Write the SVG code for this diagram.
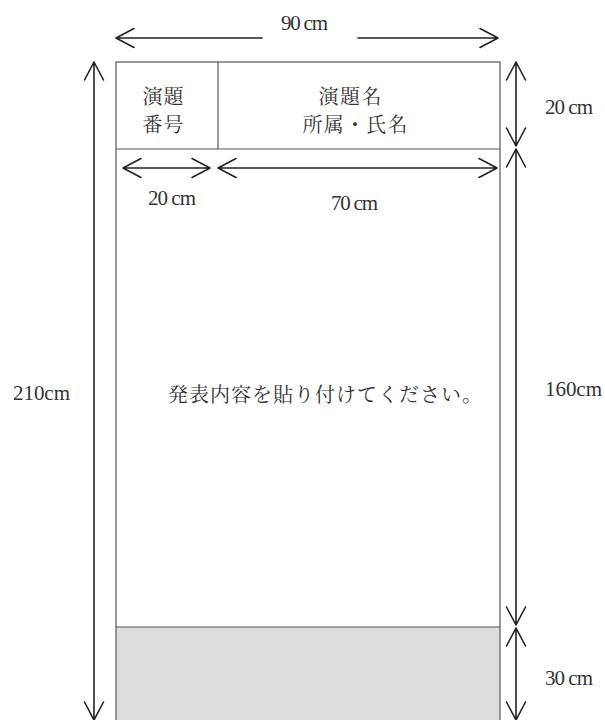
<svg xmlns="http://www.w3.org/2000/svg" width="605" height="720" viewBox="0 0 605 720">
<style>
.frame{fill:none;stroke:#555;stroke-width:1.2}
.arr{fill:none;stroke:#222;stroke-width:1.6;stroke-linecap:round;stroke-linejoin:round}
.lbl{font-family:"Liberation Serif","Noto Sans CJK JP",serif;font-size:21px;fill:#333}
.jp{font-family:"Noto Serif CJK JP","Liberation Serif","Noto Sans CJK JP",serif;font-size:20px;fill:#333}
</style>
<rect width="605" height="720" fill="#fff"/>
<g id="poster">
<rect x="116" y="627" width="384" height="100" fill="#dcdddf" stroke="none"/>
<rect class="frame" x="116" y="62" width="384" height="700"/>
<line class="frame" x1="116" y1="149" x2="500" y2="149"/>
<line class="frame" x1="116" y1="627" x2="500" y2="627"/>
</g>
<g id="number-cell">
<line class="frame" x1="218" y1="62" x2="218" y2="149"/>
<text class="jp" x="163" y="104" text-anchor="middle" textLength="41">演題</text>
<text class="jp" x="163" y="132" text-anchor="middle" textLength="41">番号</text>
</g>
<g id="title-cell">
<text class="jp" x="350" y="104" text-anchor="middle" textLength="63">演題名</text>
<text class="jp" x="355" y="132" text-anchor="middle" textLength="105">所属・氏名</text>
</g>
<g id="content">
<text class="jp" x="168" y="402" font-size="21" textLength="314">発表内容を貼り付けてください。</text>
</g>
<g id="connectors">
<!-- 90 cm -->
<path class="arr" d="M116 38H262M358 38H498M134 28.5L116 38L134 47.5M480 28.5L498 38L480 47.5"/>
<!-- 20 cm / 70 cm under header -->
<path class="arr" d="M123 168H210M141 158.5L123 168L141 177.5M192 158.5L210 168L192 177.5"/>
<path class="arr" d="M218 168H497M236 158.5L218 168L236 177.5M479 158.5L497 168L479 177.5"/>
<!-- 210 cm -->
<path class="arr" d="M94 62V720M84.5 80L94 62L103.5 80M84.5 702L94 720L103.5 702"/>
<!-- 20 cm right -->
<path class="arr" d="M516 62V146M506.5 80L516 62L525.5 80M506.5 128L516 146L525.5 128"/>
<!-- 160 cm -->
<path class="arr" d="M516 149V625M506.5 167L516 149L525.5 167M506.5 607L516 625L525.5 607"/>
<!-- 30 cm -->
<path class="arr" d="M516 628V720M506.5 646L516 628L525.5 646M506.5 702L516 720L525.5 702"/>
</g>
<g id="labels">
<text class="lbl" x="281" y="30" textLength="47">90 cm</text>
<text class="lbl" x="545" y="114" textLength="48">20 cm</text>
<text class="lbl" x="148" y="205" textLength="48">20 cm</text>
<text class="lbl" x="331" y="210" textLength="47">70 cm</text>
<text class="lbl" x="13" y="400" textLength="57">210cm</text>
<text class="lbl" x="545" y="396" textLength="57">160cm</text>
<text class="lbl" x="545" y="685" textLength="48">30 cm</text>
</g>
</svg>
